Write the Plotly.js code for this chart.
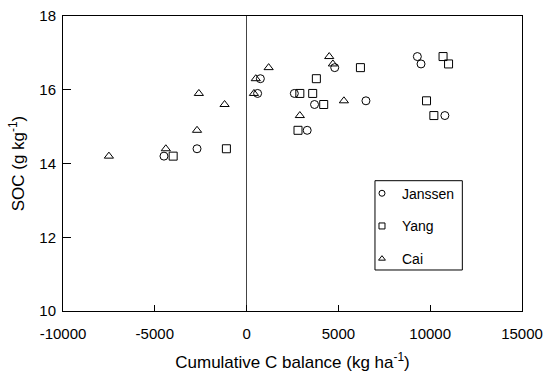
<!DOCTYPE html>
<html>
<head>
<meta charset="utf-8">
<script src="https://cdn.plot.ly/plotly-3.0.1.min.js"></script>
<style>
  html, body { margin: 0; padding: 0; background: #fff; }
  #chart { width: 543px; height: 372px; }
</style>
</head>
<body>
<div id="chart"></div>
<script>
// Cumulative C balance (kg ha-1) vs. SOC (g kg-1) for three data sources
const janssenC   = [-4500, -2700, 600, 750, 2600, 3300, 3700, 4800, 6500, 9300, 9500, 10800];
const janssenSOC = [14.2, 14.4, 15.9, 16.3, 15.9, 14.9, 15.6, 16.6, 15.7, 16.9, 16.7, 15.3];

const yangC   = [-4000, -1100, 2800, 2900, 3600, 3800, 4200, 6200, 9800, 10200, 10700, 11000];
const yangSOC = [14.2, 14.4, 14.9, 15.9, 15.9, 16.3, 15.6, 16.6, 15.7, 15.3, 16.9, 16.7];

const caiC   = [-7500, -4400, -2700, -2600, -1200, 400, 500, 1200, 2900, 4500, 4700, 5300];
const caiSOC = [14.2, 14.4, 14.9, 15.9, 15.6, 15.9, 16.3, 16.6, 15.3, 16.9, 16.7, 15.7];

const seriesNames = ['Janssen', 'Yang', 'Cai'];
const xTicks = [-10000, -5000, 0, 5000, 10000, 15000];
const yTicks = [10, 12, 14, 16, 18];

const FONT = 'Liberation Sans, Arial, Helvetica, sans-serif';
const symbols = ['circle-open', 'square-open', 'triangle-up-open'];
const data = [[janssenC, janssenSOC], [yangC, yangSOC], [caiC, caiSOC]];

const traces = [];
data.forEach(([x, y], i) => {
  traces.push({
    type: 'scatter', mode: 'markers', x: x, y: y,
    name: seriesNames[i], showlegend: false, cliponaxis: false,
    marker: { symbol: symbols[i], size: 8, color: '#000', line: { width: 1, color: '#000' } }
  });
});
// smaller symbols for the key
seriesNames.forEach((n, i) => {
  traces.push({
    type: 'scatter', mode: 'markers', x: [null], y: [null],
    name: n, legendgroup: n, showlegend: true,
    marker: { symbol: symbols[i], size: 6, color: '#000', line: { width: 1, color: '#000' } }
  });
});

const layout = {
  width: 543, height: 372,
  margin: { l: 63, r: 21, t: 16, b: 61 },
  paper_bgcolor: '#fff', plot_bgcolor: '#fff',
  font: { family: FONT, size: 15, color: '#000' },
  showlegend: true,
  legend: {
    x: 0.6514, y: 0.452, xanchor: 'left', yanchor: 'top',
    bgcolor: 'rgba(0,0,0,0)', borderwidth: 0,
    traceorder: 'grouped', tracegroupgap: 11.5,
    font: { family: FONT, size: 14, color: '#000' }
  },
  xaxis: {
    range: [-10000, 15000], tickvals: xTicks, ticktext: xTicks.map(String),
    ticks: 'inside', ticklen: 6, tickwidth: 1, tickcolor: '#000',
    ticklabelstandoff: 9,
    showline: true, linecolor: '#000', linewidth: 1, mirror: true,
    showgrid: false, zeroline: true, zerolinecolor: '#444', zerolinewidth: 1,
    tickfont: { family: FONT, size: 15 },
    title: { text: 'Cumulative C balance (kg ha<sup>-1</sup>)', font: { family: FONT, size: 17 }, standoff: 18 }
  },
  yaxis: {
    range: [10, 18], tickvals: yTicks, ticktext: yTicks.map(String),
    ticks: 'inside', ticklen: 8, tickwidth: 1, tickcolor: '#000',
    ticklabelstandoff: 3,
    showline: true, linecolor: '#000', linewidth: 1, mirror: true,
    showgrid: false, zeroline: false,
    tickfont: { family: FONT, size: 15 },
    title: { text: 'SOC (g kg<sup>-1</sup>)', font: { family: FONT, size: 17 }, standoff: 10 }
  },
  shapes: [{
    type: 'rect', xref: 'paper', yref: 'paper',
    x0: 0.6797, x1: 0.870, y0: 0.139, y1: 0.4417,
    line: { color: '#000', width: 1 }, fillcolor: 'rgba(0,0,0,0)'
  }]
};

Plotly.newPlot('chart', traces, layout, { displayModeBar: false, staticPlot: true });
</script>
</body>
</html>
